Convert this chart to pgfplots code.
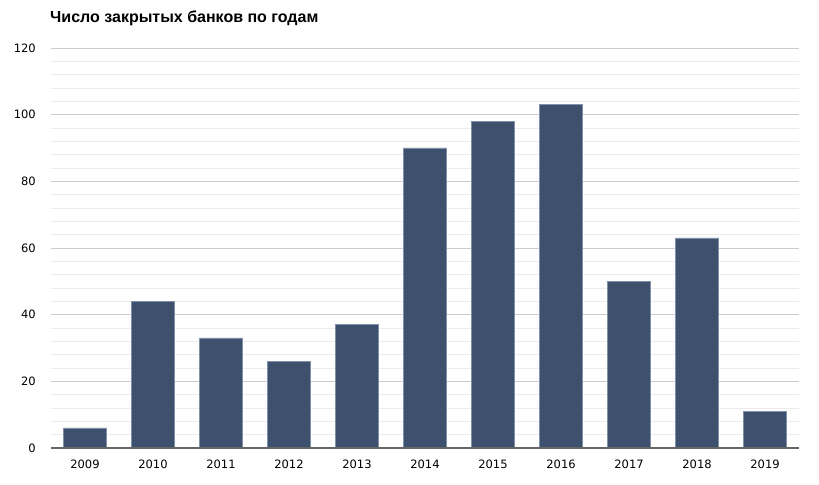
\documentclass[border=0pt]{standalone}
\usepackage{pgfplots}
\pgfplotsset{compat=1.18}
\usepackage{fontspec}
\setmainfont{DejaVu Sans}
\newfontfamily\titlefont{Liberation Sans}
\definecolor{barc}{RGB}{61,81,111}
\definecolor{baredge}{RGB}{130,145,170}
\definecolor{majg}{RGB}{204,204,204}
\definecolor{ming}{RGB}{235,235,235}
\begin{document}
\begin{tikzpicture}
\begin{axis}[
  name=ax,
  at={(51bp,37bp)}, anchor=south west,
  scale only axis, width=748bp, height=400bp,
  xmin=-0.5, xmax=10.5, ymin=0, ymax=120,
  xtick={0,...,10},
  xticklabels={2009,2010,2011,2012,2013,2014,2015,2016,2017,2018,2019},
  ytick={0,20,...,120},
  minor y tick num=4,
  ymajorgrids, yminorgrids,
  major grid style={majg, line width=0.8pt},
  minor grid style={ming, line width=0.8pt},
  axis line style={draw=none},
  axis x line*=bottom,
  axis y line*=left,
  tick style={draw=none},
  minor tick style={draw=none},
  tick label style={font=\fontsize{11.5bp}{13bp}\selectfont, black, inner sep=0pt},
  /pgf/number format/assume math mode=true,
  yticklabel style={anchor=east, xshift=-15bp},
  xticklabel style={anchor=north, yshift=-8bp},
  ybar, bar width=43bp,
  clip=false,
]
\addplot[fill=barc, draw=baredge, line width=0.6pt] coordinates {
(0,6) (1,44) (2,33) (3,26) (4,37) (5,90) (6,98) (7,103) (8,50) (9,63) (10,11)};
\draw[black!60, line width=1.2pt] (axis cs:-0.5,0) -- (axis cs:10.5,0);
\end{axis}
\node[anchor=west, inner sep=0pt, font=\titlefont\bfseries\fontsize{16bp}{18bp}\selectfont] at (50bp,467bp) {Число закрытых банков по годам};
\useasboundingbox (0,0) rectangle (819bp,485bp);
\end{tikzpicture}
\end{document}
